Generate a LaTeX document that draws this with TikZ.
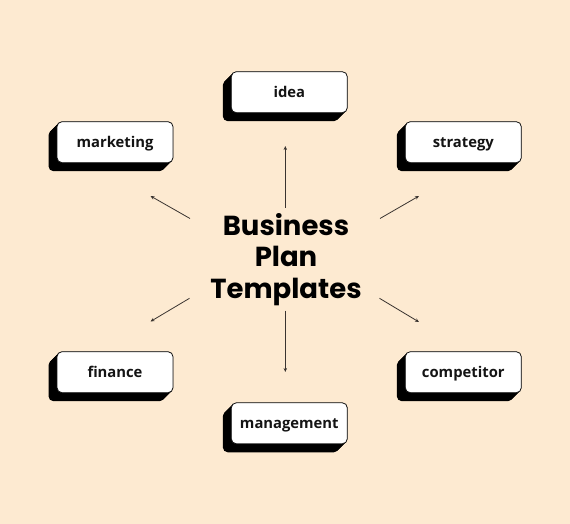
\documentclass[tikz,border=0pt]{standalone}
\usepackage{fontspec}
\usetikzlibrary{arrows.meta}
\newfontfamily\titlefont{Poppins}
\newfontfamily\labelfont{Open Sans}
\definecolor{bgpeach}{HTML}{FDEAD1}
\definecolor{inkdark}{HTML}{141414}
\definecolor{arrowgray}{HTML}{3A3430}
\tikzset{
  boxst/.style={draw=inkdark, line width=0.8pt, fill=white, rounded corners=5pt,
    minimum width=116pt, minimum height=41pt, inner sep=0pt},
  labelst/.style={font=\labelfont\bfseries\fontsize{14.8}{16}\selectfont, text=inkdark, anchor=base},
  titlest/.style={align=center, font=\titlefont\bfseries\fontsize{27.5}{31.5}\selectfont, text=black},
  arr/.style={draw=arrowgray, line width=0.8pt, -{Stealth[length=4pt,width=3.5pt]}}
}
\newcommand\shadowbox[4]{%
  \foreach \d in {0,0.5,...,8.5}{\fill[black,rounded corners=5pt] (#2-58-\d,#3-20.5+\d) rectangle ++(116,41);}
  \node[boxst] (#1) at (#2,#3) {};
  \node[labelst] (#1txt) at (#2,#3+5.5) {#4};}
\begin{document}
\begin{tikzpicture}[x=1pt,y=-1pt]
\fill[bgpeach] (0,0) rectangle (570,524);
\useasboundingbox (0,0) rectangle (570,524);
\shadowbox{idea}{289.3}{92.2}{idea}
\shadowbox{marketing}{115}{142.2}{marketing}
\shadowbox{strategy}{463.3}{142.2}{strategy}
\shadowbox{finance}{115}{372.2}{finance}
\shadowbox{competitor}{463.3}{372.2}{competitor}
\shadowbox{management}{289.3}{423.3}{management}
\node[titlest] (title) at (286,259.5) {Business\\Plan\\Templates};
\coordinate (aupS) at (285.3,207.5);
\coordinate (aupE) at (285.3,146);
\coordinate (adnS) at (285.3,310.5);
\coordinate (adnE) at (285.3,372);
\coordinate (amkS) at (190,218.5);
\coordinate (amkE) at (150.5,196);
\coordinate (astS) at (380,218.5);
\coordinate (astE) at (419,196);
\coordinate (acoS) at (379.5,298.3);
\coordinate (acoE) at (419,322);
\coordinate (afiS) at (189.5,298.3);
\coordinate (afiE) at (150.5,321.5);
\draw[arr] (aupS) -- (aupE);
\draw[arr] (adnS) -- (adnE);
\draw[arr] (amkS) -- (amkE);
\draw[arr] (astS) -- (astE);
\draw[arr] (acoS) -- (acoE);
\draw[arr] (afiS) -- (afiE);
\end{tikzpicture}
\end{document}
